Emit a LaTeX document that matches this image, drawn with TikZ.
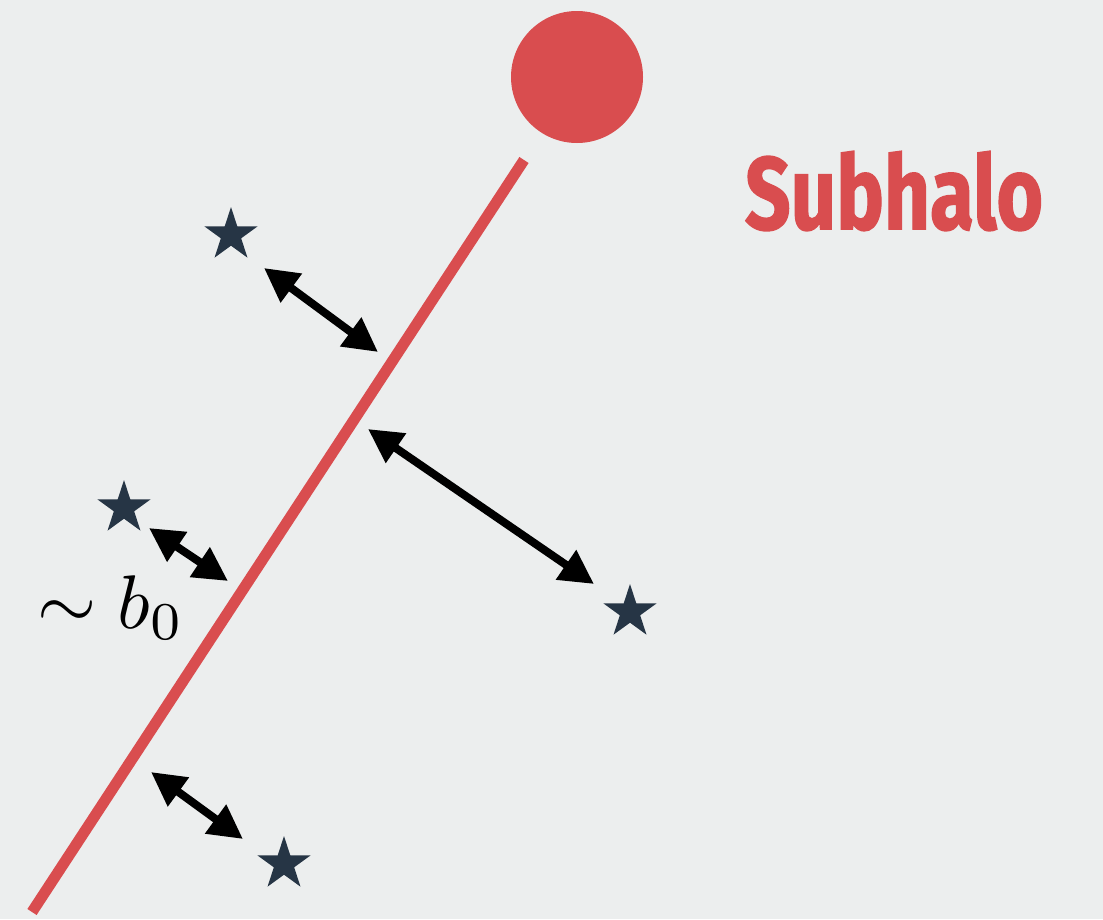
\documentclass[tikz,border=0pt]{standalone}
\usepackage{fontspec}
\newfontfamily\subfont{Fira Sans}[BoldFeatures={FakeBold=1.5}]
\usetikzlibrary{shapes.geometric,arrows.meta}
\definecolor{bg}{HTML}{ECEEEE}
\definecolor{halo}{HTML}{D94D4F}
\definecolor{starc}{HTML}{263545}
\begin{document}
\begin{tikzpicture}[x=1pt,y=-1pt,
  starnode/.style={star, star points=5, star point ratio=2.618, minimum size=56pt, inner sep=0pt, fill=starc, draw=none},
  halonode/.style={circle, minimum size=132pt, inner sep=0pt, fill=halo, draw=none},
  dist/.style={line width=8pt, black, {Triangle[length=34pt,width=34pt]}-{Triangle[length=34pt,width=34pt]}},
  track/.style={line width=11pt, halo}]
\fill[bg] (0,0) rectangle (1103,919);
\useasboundingbox (0,0) rectangle (1103,919);
% subhalo
\node[halonode] (halo) at (577,77) {};
\node (label) at (894,191) {\color{halo}\resizebox{298pt}{78pt}{\subfont\bfseries Subhalo}};
% track
\coordinate (t1) at (524,160);
\coordinate (t2) at (32,912);
\draw[track] (t1) -- (t2);
% stars
\node[starnode] (s1) at (231,235) {};
\node[starnode] (s2) at (124,508) {};
\node[starnode] (s3) at (630,612) {};
\node[starnode] (s4) at (284,864) {};
% distance arrows
\coordinate (a1) at (264,268); \coordinate (b1) at (378,352);
\coordinate (a2) at (368,429); \coordinate (b2) at (594,584);
\coordinate (a3) at (149,528); \coordinate (b3) at (228,581);
\coordinate (a4) at (151,772); \coordinate (b4) at (243,839);
\draw[dist] (a1) -- (b1);
\draw[dist] (a2) -- (b2);
\draw[dist] (a3) -- (b3);
\draw[dist] (a4) -- (b4);
% impact parameter label
\node[anchor=base west, inner sep=0pt] (b0) at (37,628) {\scalebox{7.6}{$\sim b_0$}};
\end{tikzpicture}
\end{document}
